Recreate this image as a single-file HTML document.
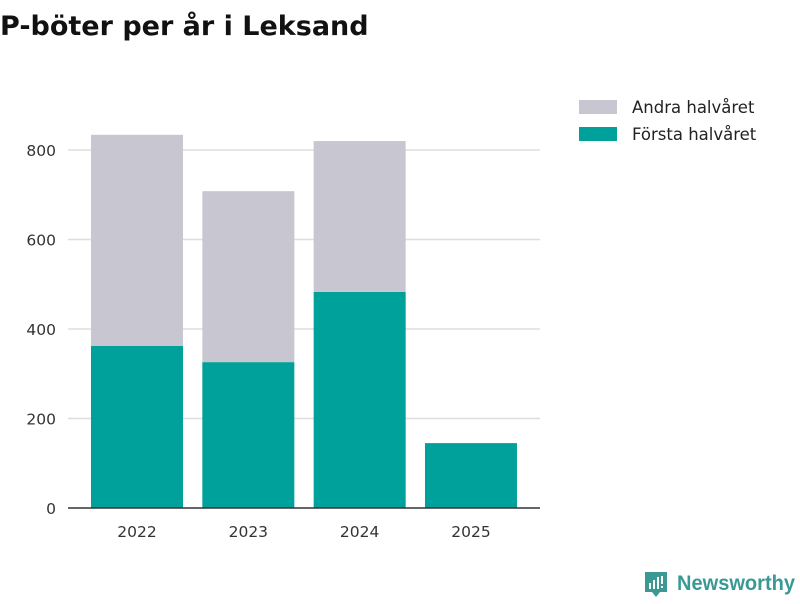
<!DOCTYPE html>
<html><head><meta charset="utf-8"><style>
body{margin:0;width:800px;height:600px;background:#fff;font-family:"DejaVu Sans","Liberation Sans",sans-serif;overflow:hidden}
</style></head><body>
<svg width="800" height="600" id="chart">
<text x="0" y="35" font-size="27" font-weight="bold" fill="#111">P-böter per år i Leksand</text>
<g id="grid"></g><g id="bars"></g><g id="axes"></g>
<g>
<rect x="579" y="100" width="38" height="14" fill="#c8c7d1"/>
<text x="632" y="113" font-size="16.5" fill="#222">Andra halvåret</text>
<rect x="579" y="127" width="38" height="14" fill="#00a19a"/>
<text x="632" y="140" font-size="16.5" fill="#222">Första halvåret</text>
</g>
<g>
<path d="M645 572h22v20h-7l-4 5-4-5h-7z" fill="#3a9a93"/>
<rect x="649" y="583" width="2" height="6" fill="#fff"/><rect x="653" y="580" width="2" height="9" fill="#fff"/><rect x="657" y="577" width="2" height="12" fill="#fff"/><rect x="661" y="576" width="2" height="8" fill="#fff"/><rect x="661" y="586" width="2" height="2" fill="#fff"/>
<text x="677" y="590" font-size="21" fill="#3a9a93" font-weight="bold" font-family="Liberation Sans, sans-serif" textLength="118" lengthAdjust="spacingAndGlyphs">Newsworthy</text>
</g>
</svg>
<script>
const categories=["2022","2023","2024","2025"];
const firstHalf=[362,326,483,145];
const secondHalf=[472,382,337,0];
const yTicks=[0,200,400,600,800];
const NS="http://www.w3.org/2000/svg";
const x0=68,x1=540,yBase=508,pxPer=0.4475;
const firstBar=91,step=111.33,bw=92;
const y=v=>yBase-v*pxPer;
const xb=i=>firstBar+step*i;
function mk(t,a,p){const e=document.createElementNS(NS,t);for(const k in a)e.setAttribute(k,a[k]);p.appendChild(e);return e;}
const grid=document.getElementById('grid'),bars=document.getElementById('bars'),axes=document.getElementById('axes');
yTicks.forEach(v=>{
 if(v>0){const l=mk('line',{x1:x0,x2:x1,y1:y(v),y2:y(v),stroke:'#ddd','stroke-width':1.5},grid);
 
 }
 const t=mk('text',{x:56,y:y(v)+6,'text-anchor':'end','font-size':15.5,fill:'#333'},axes);t.textContent=v;
 
 
});
categories.forEach((c,i)=>{
 const r1=mk('rect',{x:xb(i),y:y(firstHalf[i]),width:bw,height:firstHalf[i]*pxPer,fill:'#00a19a'},bars);
 
 
 if(secondHalf[i]>0){const r2=mk('rect',{x:xb(i),y:y(firstHalf[i]+secondHalf[i]),width:bw,height:secondHalf[i]*pxPer,fill:'#c8c7d1'},bars);
 
 }
 const t=mk('text',{x:xb(i)+bw/2,y:537,'text-anchor':'middle','font-size':15.5,fill:'#333'},axes);t.textContent=c;
 
 
});
const ax=mk('line',{x1:x0,x2:x1,y1:yBase,y2:yBase,stroke:'#333','stroke-width':1.5},axes);


</script>
</body></html>
